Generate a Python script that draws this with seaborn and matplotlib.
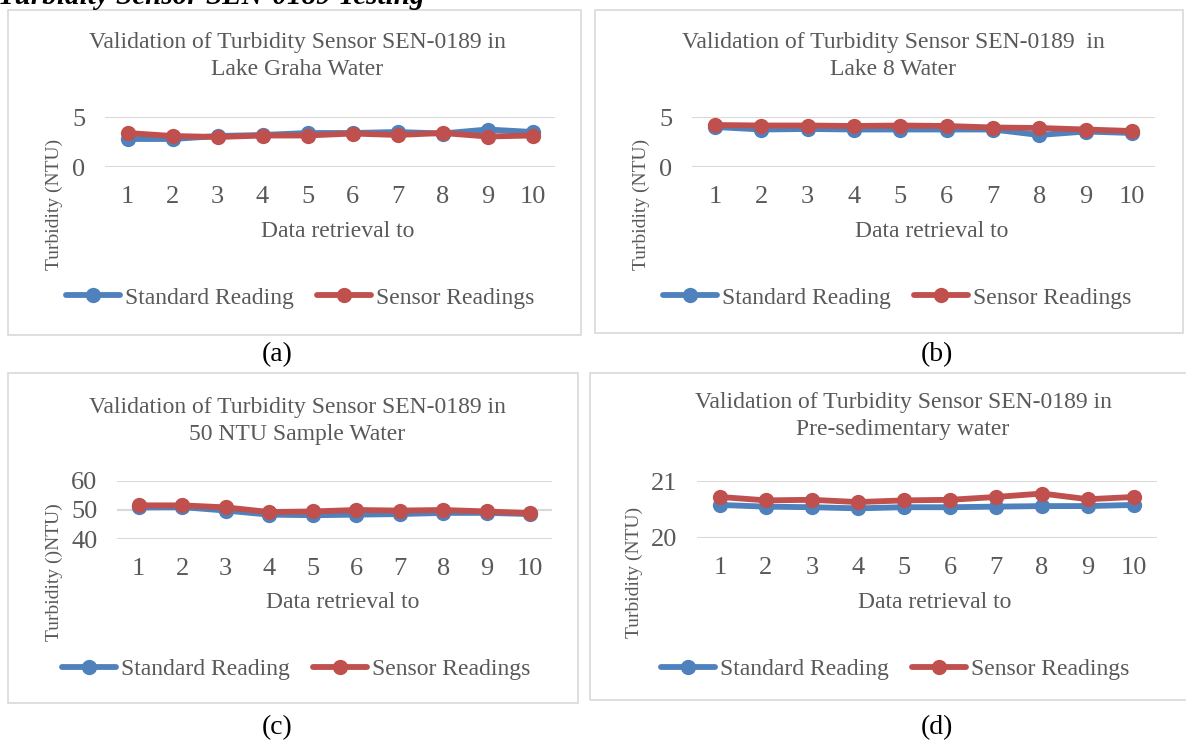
import matplotlib
matplotlib.use('Agg')
import matplotlib.pyplot as plt
import seaborn as sns
import pandas as pd
from matplotlib.patches import Rectangle

sns.set_theme(style='white')
plt.rcParams['font.family'] = ['Liberation Serif', 'DejaVu Serif']

# ---------------- data ----------------
retrieval = list(range(1, 11))
series_names = ['Standard Reading', 'Sensor Readings']

std_a = [2.8, 2.8, 3.1, 3.2, 3.4, 3.4, 3.5, 3.35, 3.75, 3.5]
sen_a = [3.4, 3.1, 3.0, 3.15, 3.15, 3.35, 3.2, 3.4, 3.05, 3.15]

std_b = [4.0, 3.75, 3.8, 3.75, 3.75, 3.75, 3.75, 3.2, 3.55, 3.4]
sen_b = [4.2, 4.15, 4.15, 4.1, 4.15, 4.1, 3.95, 3.9, 3.75, 3.6]

std_c = [50.9, 51.0, 49.8, 48.4, 48.2, 48.4, 48.6, 49.0, 49.0, 48.6]
sen_c = [51.6, 51.6, 50.9, 49.3, 49.5, 50.0, 49.8, 50.0, 49.5, 48.9]

std_d = [20.58, 20.55, 20.54, 20.52, 20.54, 20.54, 20.55, 20.56, 20.56, 20.58]
sen_d = [20.72, 20.66, 20.67, 20.63, 20.66, 20.67, 20.72, 20.78, 20.68, 20.72]

titles = ['Validation of Turbidity Sensor SEN-0189 in\nLake Graha Water',
          'Validation of Turbidity Sensor SEN-0189  in\nLake 8 Water',
          'Validation of Turbidity Sensor SEN-0189 in\n50 NTU Sample Water',
          'Validation of Turbidity Sensor SEN-0189 in\nPre-sedimentary water']
ylabels = ['Turbidity (NTU)', 'Turbidity (NTU)', 'Turbidity ()NTU)', 'Turbidity (NTU)']
yticks_list = [[0, 5], [0, 5], [40, 50, 60], [20, 21]]
panel_tags = ['(a)', '(b)', '(c)', '(d)']
xlabel_text = 'Data retrieval to'
header_text = 'Turbidity Sensor SEN-0189 Testing'

data_sets = [(std_a, sen_a), (std_b, sen_b), (std_c, sen_c), (std_d, sen_d)]

# ---------------- layout (pixels) ----------------
W, H = 1186, 742
fig = plt.figure(figsize=(W / 100, H / 100), dpi=100)
fig.patch.set_facecolor('white')

GRAY = '#595959'
GRID = '#D9D9D9'
BLUE = '#4F81BD'
RED = '#C0504D'

panels = [
    dict(ax=(105, 555, 117, 167), frame=(8, 10, 581, 335), tx=297, ty=56, ylx=54, leg=(300, 298), tag=(277, 355), xly=231),
    dict(ax=(692, 1155, 117, 167), frame=(595, 10, 1183, 333), tx=893, ty=56, ylx=641, leg=(897, 298), tag=(937, 355), xly=231),
    dict(ax=(117, 552, 481, 539), frame=(8, 373, 578, 703), tx=297, ty=421, ylx=54, leg=(296, 669), tag=(277, 728), xly=603),
    dict(ax=(697, 1157, 481, 538), frame=(590, 373, 1190, 700), tx=903, ty=416, ylx=634, leg=(895, 669), tag=(937, 728), xly=603),
]

def fx(x):
    return x / W

def fy(y):
    return 1 - y / H

# header (cut off at the top, as in the source page)
fig.text(fx(-2), fy(4), header_text, fontsize=21, fontweight='bold', fontstyle='italic',
         color='black', ha='left', va='baseline')

for p, (std, sen), title, ylab, yt, tag in zip(panels, data_sets, titles, ylabels, yticks_list, panel_tags):
    fx0, fy0, fx1, fy1 = p['frame']
    fig.patches.append(Rectangle((fx(fx0), fy(fy1)), (fx1 - fx0) / W, (fy1 - fy0) / H,
                                 transform=fig.transFigure, fill=False, edgecolor=GRID, lw=1.2))
    x0, x1, yt_px, yb_px = p['ax']
    ax = fig.add_axes([fx(x0), fy(yb_px), (x1 - x0) / W, (yb_px - yt_px) / H])

    df = pd.DataFrame({
        'Retrieval': retrieval * 2,
        'Turbidity': list(std) + list(sen),
        'Series': [series_names[0]] * len(retrieval) + [series_names[1]] * len(retrieval),
    })
    sns.lineplot(data=df, x='Retrieval', y='Turbidity', hue='Series',
                 palette=[BLUE, RED], marker='o', markersize=11, linewidth=4.2,
                 markeredgewidth=0, legend=False, ax=ax, clip_on=False)

    ax.set_xlim(0.5, 10.5)
    ax.set_ylim(yt[0], yt[-1])
    ax.set_yticks(yt)
    ax.set_xticks(retrieval)
    ax.set_xticklabels([str(r) for r in retrieval])
    ax.grid(axis='y', color=GRID, lw=1.5)
    ax.set_axisbelow(True)
    for s in ax.spines.values():
        s.set_visible(False)
    ax.tick_params(axis='x', length=0, pad=14, labelsize=19, labelcolor=GRAY)
    ax.tick_params(axis='y', length=0, pad=14, labelsize=19, labelcolor=GRAY)
    ax.set_xlabel('')
    ax.set_ylabel('')

    fig.text(fx((x0 + x1) / 2 + 8), fy(p['xly']), xlabel_text, fontsize=17, color=GRAY, ha='center', va='center')
    fig.text(fx(p['ylx']), fy((yt_px + p['xly'] + 40) / 2 + 10), ylab, fontsize=14, color=GRAY,
             rotation=90, ha='center', va='center')
    fig.text(fx(p['tx']), fy(p['ty']), title, fontsize=17, color=GRAY, ha='center', va='center',
             linespacing=1.4)

    handles = ax.lines[:2]
    ax.legend(handles=handles, labels=series_names, loc='center', ncol=2,
              bbox_to_anchor=(fx(p['leg'][0]), fy(p['leg'][1])), bbox_transform=fig.transFigure,
              frameon=False, fontsize=17, labelcolor=GRAY, handlelength=2.3, handletextpad=0.2,
              columnspacing=1.0, numpoints=1)

    fig.text(fx(p['tag'][0]), fy(p['tag'][1]), tag, fontsize=20, color='black', ha='center', va='center')

fig.savefig('out.png', dpi=100, facecolor='white')
